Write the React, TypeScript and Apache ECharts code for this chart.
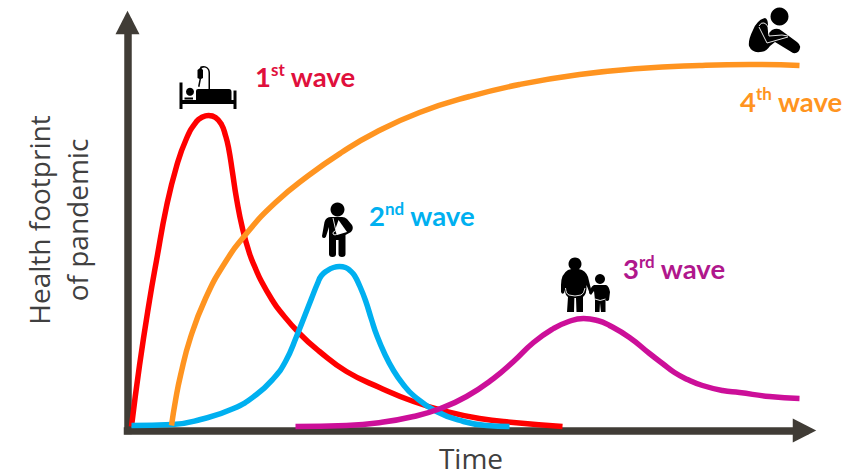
import React, { useEffect, useRef } from "react";
import * as echarts from "echarts";

const firstWave = [[4,4],[12,65],[22,130],[29,170],[39,224],[49,264],[59,292],[69,309],[75,313.5],[81,315],[88,313],[94,306],[98,295],[101,283],[105,258],[109,232],[115,202],[122,177],[128,162],[134,149],[145,130],[152,120],[172,97],[192,79],[219,59],[252,43],[286,29],[319,19],[352,12],[386,8],[435,4]];
const secondWave = [[4,5],[45,6],[73,11],[106,22],[129,36],[146,52],[158,69],[169,94],[184,132],[190,147],[194,155],[200,160],[206,163],[212,164],[218,163],[223,159.5],[227,155],[232,145],[238,130],[244,111],[249,96],[257,77],[266,60],[275,47],[286,35],[309,19],[336,9],[359,5],[382,4]];
const thirdWave = [[168,4],[219,5],[253,8],[286,14],[313,22],[339,34],[366,52],[386,69],[406,88],[426,102],[440,108.5],[456,112],[470,110],[482,105],[502,93],[522,77],[535,67],[547,58],[560,51],[575,45],[595,40],[612,38],[642,34],[672,32]];
const fourthWave = [[44,5],[48,30],[53,55],[63,93],[78,132],[97,167],[119,197],[148,228],[181,255],[214,278],[248,298],[292,318],[342,334],[392,346],[452,356],[512,362],[572,365],[622,366],[672,365]];

const seriesNames = ["1st wave", "2nd wave", "3rd wave", "4th wave"];
const xAxisName = "Time";
const yAxisName = "Health footprint\nof pandemic";

const shapes: Record<string, string> = {
  bedFrame: "M179.5 82.5 L182.5 82.5 L182.5 100 L233.5 100 L233.5 90.5 L236.5 90.5 L236.5 109 L233.5 109 L233.5 104 L182.5 104 L182.5 109 L179.5 109 Z M198 89 L229 89 Q231.5 89 231.5 92 L231.5 100.5 L196 100.5 L196 91 Q196 89 198 89 Z M184.5 97.5 L193 97.5 L193 99.5 L184.5 99.5 Z",
  bedDrip: "M198 86.5 L199.5 79 L197.5 78 L197.5 70 L200 68 L200.5 66.5 Q204 65.5 207 67 Q210 69 210 73 L210 89 L208.5 89 L208.5 73 Q208.5 68 204.5 67.5 Q202.5 67.5 201.5 68.5 L203 70 L203 78 L201 79 L199.5 87 Z",
  slingMan: "M331 217 Q326 217 324.5 222 L322 236 Q322 238.5 324.5 238 Q326 238 326.5 235 L329 227 L329 254 Q329 257 332.5 257 Q336 257 336 254 L336 240 L338.5 240 L338.5 254 Q338.5 257 342 257 Q345.5 257 345.5 254 L345.5 235 L351 232 Q354 229 352 225 L347 219 Q345 217 342 217 Z",
  sling: "M338.5 220 L347 232 L337 235 L335 230 Z",
  slingLine: "M333 218 L335.5 229 M335 231 Q332.5 232 333 234 Q335 236 337 234",
  bigMan: "M568 270 Q561 274 561 285 L561 292 Q562 295 564 293 L565 290 Q565 295 568 297 L567 312 L574 312 L574.5 298 L576 298 L576.5 312 L583 312 L583 297 Q587 294 586.5 285 L590 294 L592 293 L589 281 Q588 273 582 270 Q575 267 568 270 Z",
  bigManLine: "M565.5 288 Q566 294 569 295 Q575 297 581 295 Q584 294 585 288 M575.2 298 L575.2 312",
  child: "M594 285 Q592 286 591 288 L589 293 L591 295 L594 291 L595 300 L595 312 L599.5 312 L600 303 L601 312 L605.5 312 L605.5 300 Q607 302 609 300 L610 292 Q609 286 606 285 Z",
  childLine: "M595 299 Q600 302 605.5 299",
  sitting: "M765 18 Q757 20 753 30 Q748 40 749 46 Q752 53 760 52 Q766 52 770 46 L775 42 L793 53 Q799 54 800 48 Q801 45 797 42 L782 31 Q778 27 772 30 L768 34 L768 25 Q768 19 765 18 Z",
  sittingLine: "M759 26 Q761 22 764 23 Q767 24 768 27 L769 36 L782 35 L788 36 M759 27 L767 43 L788 37",
};
Object.keys(shapes).forEach((k) => {
  echarts.graphic.registerShape(k, echarts.graphic.extendPath(shapes[k], {}));
});

const waveLabel = (x: number, y: number, a: string, b: string, color: string) => {
  const font = { fontFamily: "Lato", fontWeight: 700 as const, fill: color };
  return {
    type: "text",
    x,
    y,
    style: {
      text: `{n|${a}}{s|${b}}{n| wave}`,
      fill: color,
      rich: {
        n: { ...font, fontSize: 27.5, lineHeight: 30, verticalAlign: "bottom" },
        s: { ...font, fontSize: 17, lineHeight: 30, verticalAlign: "top" },
      },
    },
  };
};

const black = (type: string) => ({ type, style: { fill: "#000" } });
const white = (type: string) => ({ type, style: { fill: "none", stroke: "#fff", lineWidth: 0.9 } });
const head = (cx: number, cy: number, r: number) => ({ type: "circle", shape: { cx, cy, r }, style: { fill: "#000" } });

export default function App() {
  const ref = useRef<HTMLDivElement>(null);
  useEffect(() => {
    const chart = echarts.init(ref.current!, null, { renderer: "svg" });
    const line = (name: string, data: number[][], color: string) => ({
      name,
      type: "line",
      data,
      smooth: 0.5,
      showSymbol: false,
      symbol: "none",
      clip: false,
      lineStyle: { color, width: 5.5 },
      z: 2,
    });
    const axisLine = {
      show: true,
      symbol: ["none", "triangle"],
      symbolSize: [24, 23.5],
      lineStyle: { color: "#403c36", width: 7.5, cap: "square" },
    };
    chart.setOption({
      animation: false,
      backgroundColor: "#fff",
      grid: { left: 127.5, right: 61.5, top: 22.5, bottom: 40.5, containLabel: false, outerBoundsMode: "none" },
      xAxis: {
        type: "value",
        min: 0,
        max: 677,
        name: xAxisName,
        nameLocation: "middle",
        nameGap: 15.5,
        nameTextStyle: { fontFamily: "Open Sans", fontSize: 28, lineHeight: 24, color: "#404040", padding: [0, 0, 0, 10] },
        axisLine,
        axisTick: { show: false },
        axisLabel: { show: false },
        splitLine: { show: false },
      },
      yAxis: {
        type: "value",
        min: 0,
        max: 408,
        name: yAxisName,
        nameLocation: "middle",
        nameGap: 31.5,
        nameTextStyle: { fontFamily: "Open Sans", fontSize: 28, lineHeight: 38, color: "#404040", padding: [0, 0, 0, 13] },
        axisLine,
        axisTick: { show: false },
        axisLabel: { show: false },
        splitLine: { show: false },
      },
      series: [
        line(seriesNames[0], firstWave, "#ff0000"),
        line(seriesNames[1], secondWave, "#00b0f0"),
        line(seriesNames[2], thirdWave, "#cc0f99"),
        line(seriesNames[3], fourthWave, "#ff9420"),
      ],
      graphic: [
        black("bedFrame"),
        black("bedDrip"),
        head(190, 91.7, 4),
        black("slingMan"),
        { type: "sling", style: { fill: "#fff" } },
        white("slingLine"),
        head(337.5, 209.5, 7),
        black("bigMan"),
        white("bigManLine"),
        head(575, 264, 6.5),
        black("child"),
        white("childLine"),
        head(600, 279, 5),
        black("sitting"),
        white("sittingLine"),
        head(779.5, 16.5, 9),
        waveLabel(255, 60.5, "1", "st", "#e0103c"),
        waveLabel(369, 199.5, "2", "nd", "#00b0f0"),
        waveLabel(623, 252.5, "3", "rd", "#b0178c"),
        waveLabel(740, 85, "4", "th", "#ff9420"),
      ],
    });
    return () => chart.dispose();
  }, []);
  return <div ref={ref} style={{ position: "absolute", left: 0, top: 0, width: 866, height: 471 }} />;
}
